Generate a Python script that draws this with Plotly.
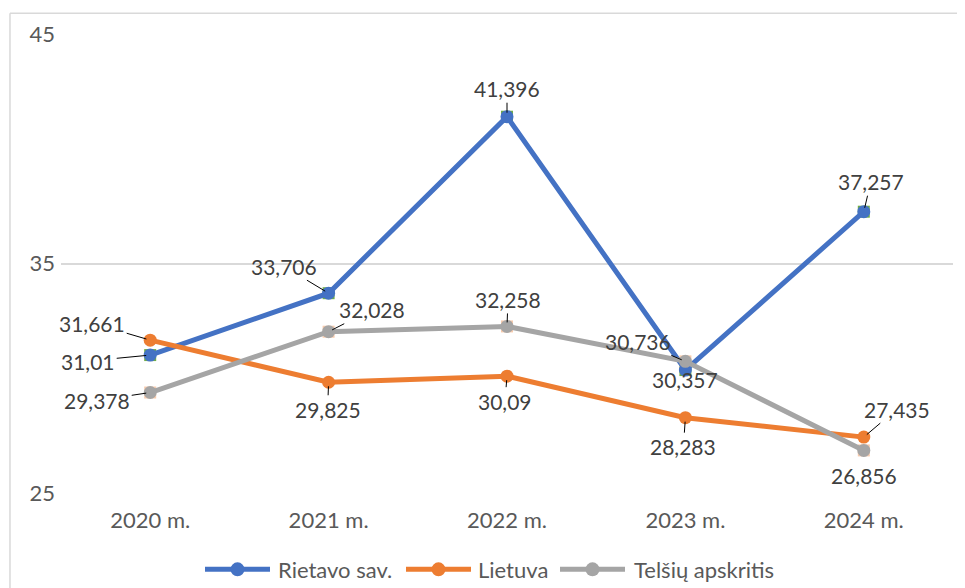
import plotly.graph_objects as go

categories = ["2020 m.", "2021 m.", "2022 m.", "2023 m.", "2024 m."]
rietavo = [31.01, 33.706, 41.396, 30.357, 37.257]
lietuva = [31.661, 29.825, 30.09, 28.283, 27.435]
telsiu = [29.378, 32.028, 32.258, 30.736, 26.856]
series_names = ["Rietavo sav.", "Lietuva", "Telšių apskritis"]

# label offsets (px) and whether a leader line is drawn
r_off = [(-62, 6, True), (-45, -27, True), (0, -28, True), (0, 9, False), (7, -30, True)]
l_off = [(-58, -17, True), (-1, 27, True), (-2, 25, True), (-2, 29, True), (33, -28, True)]
t_off = [(-53, 8, True), (43, -22, True), (1, -27, True), (-47, -20, True), (0, 25, False)]

FONT = "Lato, 'Open Sans', sans-serif"
colors = ["#4472c4", "#ed7d31", "#a5a5a5"]
fig = go.Figure()

# underlying square markers (artefacts in original)
fig.add_trace(go.Scatter(x=categories, y=rietavo, mode="markers", showlegend=False,
                         marker=dict(symbol="square", size=12, color="#70ad47"), hoverinfo="skip"))
fig.add_trace(go.Scatter(x=categories, y=telsiu, mode="markers", showlegend=False,
                         marker=dict(symbol="square", size=12, color="#f8cbad"), hoverinfo="skip"))

for name, vals, col in zip(series_names, [rietavo, lietuva, telsiu], colors):
    fig.add_trace(go.Scatter(x=categories, y=vals, name=name, mode="lines+markers",
                             line=dict(color=col, width=5), showlegend=False,
                             marker=dict(symbol="circle", size=13, color=col)))

def fmt(v):
    s = ("%.3f" % v).rstrip("0").rstrip(".")
    return s.replace(".", ",")

for vals, offs in [(rietavo, r_off), (lietuva, l_off), (telsiu, t_off)]:
    for c, v, (dx, dy, lead) in zip(categories, vals, offs):
        fig.add_annotation(x=c, y=v, text=fmt(v), showarrow=True, ax=dx, ay=dy,
                           arrowhead=0, arrowwidth=1, arrowcolor="#000000" if lead else "rgba(0,0,0,0)",
                           standoff=4, font=dict(family=FONT, size=21, color="#404040"))

fig.update_layout(
    width=965, height=588,
    margin=dict(l=53, r=20, t=22, b=103),
    paper_bgcolor="white", plot_bgcolor="white",
    font=dict(family=FONT, size=22, color="#595959"),
    xaxis=dict(type="category", showgrid=False, zeroline=False, showline=False,
               ticks="", tickfont=dict(size=22, color="#595959"), range=[-0.5, 4.5],
               ticklabelstandoff=12),
    yaxis=dict(range=[25, 45], tickvals=[25, 35, 45], showgrid=True, gridcolor="#d9d9d9",
               gridwidth=1.5, zeroline=False, showline=False, ticks="",
               tickfont=dict(size=22, color="#595959"), ticklabelstandoff=5),
    showlegend=False,
)

# custom legend (long line symbols like the original)
PW, PH = 892.0, 463.0
def px(xp):
    return (xp - 61) / PW
ly = (485 - 562) / PH
legend_items = [(205, 270, 276), (406, 471, 476), (560, 625, 632)]
for (x0, x1, tx), name, col in zip(legend_items, series_names, colors):
    fig.add_shape(type="line", xref="paper", yref="paper", x0=px(x0), x1=px(x1), y0=ly, y1=ly,
                  line=dict(color=col, width=5))
    fig.add_shape(type="circle", xref="paper", yref="paper", xsizemode="pixel", ysizemode="pixel",
                  xanchor=px((x0 + x1) / 2), yanchor=ly, x0=-7, x1=7, y0=-7, y1=7,
                  fillcolor=col, line=dict(color=col, width=0))
    fig.add_annotation(xref="paper", yref="paper", x=px(tx), y=ly, text=name, showarrow=False,
                       xanchor="left", yanchor="middle", font=dict(family=FONT, size=22, color="#595959"))

# outer chart border (top and left)
fig.add_shape(type="line", xref="paper", yref="paper", x0=-0.0572, x1=1.03, y0=1.045, y1=1.045,
              line=dict(color="#d9d9d9", width=1.5))
fig.add_shape(type="line", xref="paper", yref="paper", x0=-0.0572, x1=-0.0572, y0=1.045, y1=-0.25,
              line=dict(color="#d9d9d9", width=1.5))

fig.write_html("out.html")
